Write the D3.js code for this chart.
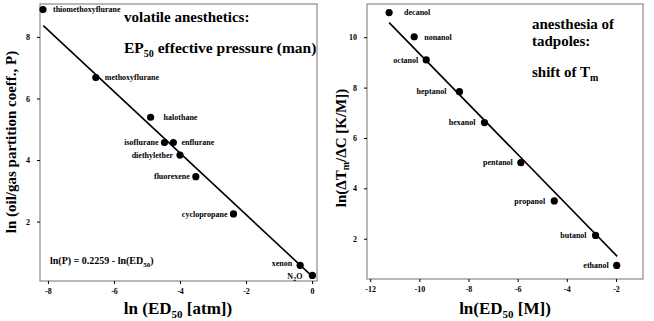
<!DOCTYPE html>
<html><head><meta charset="utf-8">
<script src="https://cdn.jsdelivr.net/npm/d3@7"></script>
<style>
body{margin:0;background:#fff;}
</style></head>
<body>
<svg id="c" width="654" height="321"></svg>
<script>
// Left panel: volatile anesthetics
const leftNames = ["thiomethoxyflurane","methoxyflurane","halothane","isoflurane","enflurane","diethylether","fluorexene","cyclopropane","xenon","N2O"];
const leftX = [-8.15,-6.55,-4.89,-4.47,-4.20,-4.00,-3.52,-2.38,-0.36,0.01];
const leftY = [8.89,6.68,5.39,4.57,4.57,4.16,3.46,2.25,0.58,0.25];
const leftTicksX = [-8,-6,-4,-2,0];
const leftTicksY = [2,4,6,8];
const leftFitRange = [-8.14,0.03];
const leftFit = {intercept:0.2259, slope:-1};

// Right panel: tadpoles
const rightNames = ["decanol","nonanol","octanol","heptanol","hexanol","pentanol","propanol","butanol","ethanol"];
const rightX = [-11.23,-10.21,-9.72,-8.37,-7.35,-5.87,-4.51,-2.83,-1.97];
const rightY = [10.98,10.02,9.10,7.84,6.61,5.02,3.50,2.13,0.94];
const rightTicksX = [-12,-10,-8,-6,-4,-2];
const rightTicksY = [2,4,6,8,10];
const rightFitRange = [-11.23,-1.95];
const rightFit = {intercept:-0.65, slope:-1};

const FONT = "'Liberation Serif', 'Times New Roman', Times, 'DejaVu Serif', serif";
const svg = d3.select("#c");

function panel(cfg){
  const g = svg.append("g");
  const x = d3.scaleLinear().domain(cfg.xd).range([cfg.x0,cfg.x1]);
  const y = d3.scaleLinear().domain(cfg.yd).range([cfg.y1,cfg.y0]);
  g.append("rect").attr("x",cfg.x0).attr("y",cfg.y0).attr("width",cfg.x1-cfg.x0).attr("height",cfg.y1-cfg.y0)
    .attr("fill","none").attr("stroke","#8a8a8a").attr("stroke-width",1.2);
  const ax = g.append("g").attr("transform",`translate(0,${cfg.y1})`)
    .call(d3.axisBottom(x).tickValues(cfg.tx).tickSize(3).tickPadding(4).tickFormat(d=>d<0?"-"+Math.abs(d):d));
  const ay = g.append("g").attr("transform",`translate(${cfg.x0},0)`)
    .call(d3.axisLeft(y).tickValues(cfg.ty).tickSize(3).tickPadding(7));
  [ax,ay].forEach(a=>{a.select(".domain").remove();a.selectAll("line").attr("stroke","#000");
    a.selectAll("text").attr("font-size",8);});
  const fx = cfg.fitRange;
  g.append("line").attr("x1",x(fx[0])).attr("y1",y(cfg.fit.intercept+cfg.fit.slope*fx[0]))
    .attr("x2",x(fx[1])).attr("y2",y(cfg.fit.intercept+cfg.fit.slope*fx[1]))
    .attr("stroke","#000").attr("stroke-width",1.6);
  const data = cfg.names.map((n,i)=>({n,x:cfg.xs[i],y:cfg.ys[i]}));
  g.selectAll("circle").data(data).join("circle").attr("cx",d=>x(d.x)).attr("cy",d=>y(d.y)).attr("r",3.6).attr("fill","#000");
  return {g,x,y,data};
}

// Left
const L = panel({x0:40,x1:317,y0:4,y1:281,xd:[-8.24,0.15],yd:[0.07,9.07],tx:leftTicksX,ty:leftTicksY,
  names:leftNames,xs:leftX,ys:leftY,fitRange:leftFitRange,fit:leftFit});
const leftLab = {
  "thiomethoxyflurane":[10,0,"start"],"methoxyflurane":[9,0,"start"],"halothane":[13,0,"start"],
  "isoflurane":[-6,0,"end"],"enflurane":[8,0,"start"],"diethylether":[-7,0,"end"],
  "fluorexene":[-6,0,"end"],"cyclopropane":[-6,0,"end"],"xenon":[-8,-2,"end"],"N2O":[-10,1,"end"]};
L.data.forEach(d=>{
  const o = leftLab[d.n];
  const t = L.g.append("text").attr("x",L.x(d.x)+o[0]).attr("y",L.y(d.y)+o[1]+2.8).attr("text-anchor",o[2]).attr("font-size",8);
  if(d.n==="N2O"){t.append("tspan").text("N");t.append("tspan").text("2").attr("dy",2).attr("font-size",6);t.append("tspan").text("O").attr("dy",-2);}
  else t.text(d.n);
});
svg.append("text").attr("x",124).attr("y",22).attr("font-size",15).text("volatile anesthetics:");
const t1 = svg.append("text").attr("x",124).attr("y",53).attr("font-size",15.5);
t1.append("tspan").text("EP");t1.append("tspan").text("50").attr("dy",4).attr("font-size",10);
t1.append("tspan").text(" effective pressure (man)").attr("dy",-4);
const eq = svg.append("text").attr("x",50).attr("y",264).attr("font-size",10);
eq.append("tspan").text("ln(P) = 0.2259 - ln(ED");eq.append("tspan").text("50").attr("dy",2.5).attr("font-size",7);eq.append("tspan").text(")").attr("dy",-2.5);
const xt1 = svg.append("text").attr("x",178).attr("y",314).attr("text-anchor","middle").attr("font-size",17);
xt1.append("tspan").text("ln (ED");xt1.append("tspan").text("50").attr("dy",4).attr("font-size",11);xt1.append("tspan").text(" [atm])").attr("dy",-4);
svg.append("text").attr("transform","translate(16,142) rotate(-90)").attr("text-anchor","middle").attr("font-size",15)
  .text("ln (oil/gas partition coeff., P)");

// Right
const R = panel({x0:367,x1:643,y0:4,y1:279,xd:[-12.13,-0.9],yd:[0.4,11.32],tx:rightTicksX,ty:rightTicksY,
  names:rightNames,xs:rightX,ys:rightY,fitRange:rightFitRange,fit:rightFit});
const rightLab = {"decanol":[15,"start"],"nonanol":[10,"start"],"octanol":[-8,"end"],"heptanol":[-13,"end"],
  "hexanol":[-9,"end"],"pentanol":[-8,"end"],"propanol":[-9,"end"],"butanol":[-9,"end"],"ethanol":[-8,"end"]};
R.data.forEach(d=>{
  const o = rightLab[d.n];
  R.g.append("text").attr("x",R.x(d.x)+o[0]).attr("y",R.y(d.y)+2.8).attr("text-anchor",o[1]).attr("font-size",8).text(d.n);
});
svg.append("text").attr("x",532).attr("y",29).attr("font-size",15).text("anesthesia of");
svg.append("text").attr("x",532).attr("y",46).attr("font-size",15).text("tadpoles:");
const st = svg.append("text").attr("x",532).attr("y",77).attr("font-size",15);
st.append("tspan").text("shift of T");st.append("tspan").text("m").attr("dy",4).attr("font-size",10);
const xt2 = svg.append("text").attr("x",505).attr("y",314).attr("text-anchor","middle").attr("font-size",17);
xt2.append("tspan").text("ln(ED");xt2.append("tspan").text("50").attr("dy",4).attr("font-size",11);xt2.append("tspan").text(" [M])").attr("dy",-4);
const yt2 = svg.append("text").attr("transform","translate(346,148) rotate(-90)").attr("text-anchor","middle").attr("font-size",15);
yt2.append("tspan").text("ln(ΔT");yt2.append("tspan").text("m").attr("dy",3).attr("font-size",10);
yt2.append("tspan").text("/ΔC  [K/M])").attr("dy",-3);

svg.selectAll("text").attr("font-family",FONT).attr("font-weight","bold").attr("fill","#000");
svg.selectAll("g").attr("font-family",FONT);
</script>
</body></html>
